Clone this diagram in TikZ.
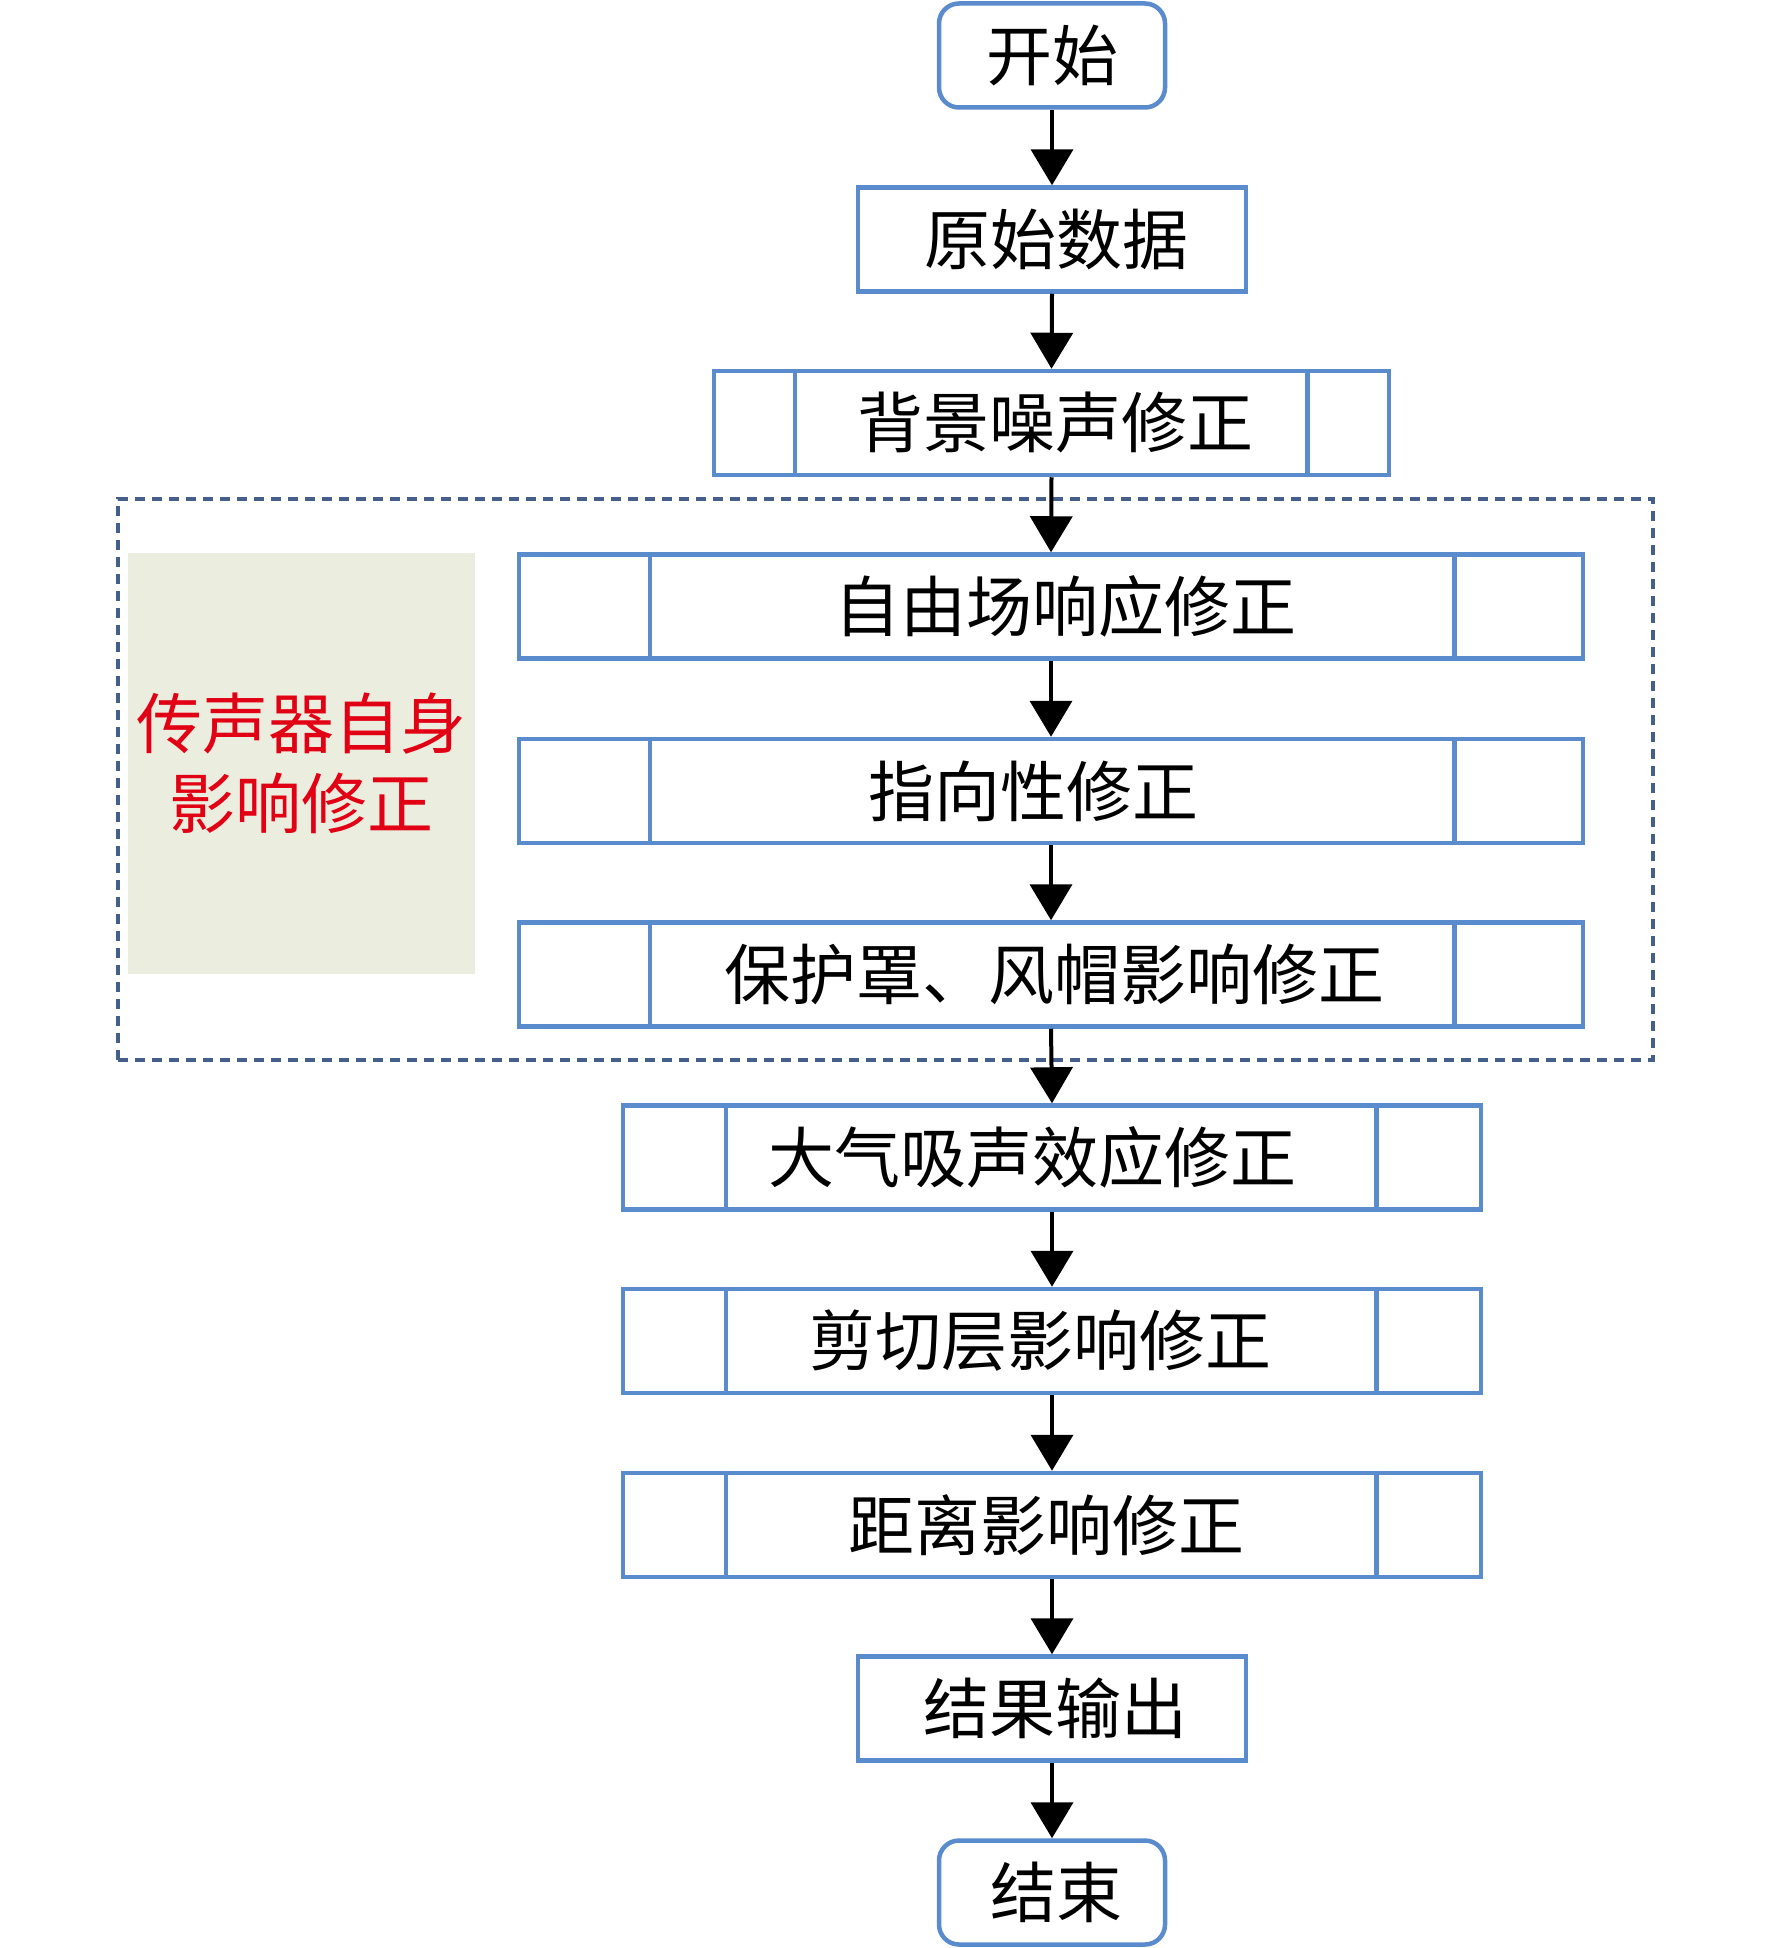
\documentclass[tikz,border=0pt]{standalone}
\usepackage{fontspec}
\setmainfont{Noto Sans CJK SC}
\usetikzlibrary{arrows.meta,calc}
\definecolor{boxblue}{RGB}{89,139,205}
\definecolor{dashblue}{RGB}{68,96,138}
\definecolor{greenbg}{RGB}{235,238,223}
\definecolor{redtxt}{RGB}{225,0,20}
\newcommand\procbars[3]{%
  \draw[bar] ($(#1.north west)+(#2,0)$) -- ($(#1.south west)+(#2,0)$);
  \draw[bar] ($(#1.north east)+(-#3,0)$) -- ($(#1.south east)+(-#3,0)$);}
\begin{document}
\begin{tikzpicture}[x=1pt,y=-1pt,
  txt/.style={font=\fontsize{66}{80}\selectfont},
  box/.style={draw=boxblue, line width=4.5pt, minimum height=104pt, inner sep=0pt, fill=white},
  term/.style={box, rounded corners=20pt},
  bar/.style={draw=boxblue, line width=4.5pt},
  arr/.style={line width=4pt, -{Triangle[length=36pt,width=42pt]}},
  grpbox/.style={draw=dashblue, line width=4pt, dash pattern=on 10pt off 7pt, inner sep=0pt},
  greenbox/.style={fill=greenbg, inner sep=0pt, text=redtxt, align=center, txt}]
\useasboundingbox (0,0) rectangle (1772,1948);

% group frame and side note
\node[grpbox, minimum width=1535pt, minimum height=561pt] (grp) at (885.5,779.5) {};
\node[greenbox, minimum width=347pt, minimum height=421pt] (mic) at (301.5,763) {传声器自身\\影响修正};

% main chain
\node[term, minimum width=226pt, label={[txt]center:开始}] (start) at (1052,55.5) {};
\node[box, minimum width=388pt, label={[txt,xshift=4pt]center:原始数据}] (raw) at (1052,239.5) {};
\node[box, minimum width=675pt, label={[txt,xshift=4pt]center:背景噪声修正}] (bg) at (1051.5,423) {};
\node[box, minimum width=1064pt, label={[txt,xshift=14pt]center:自由场响应修正}] (ff) at (1051,606.5) {};
\node[box, minimum width=1064pt, label={[txt,xshift=-18pt]center:指向性修正}] (dir) at (1051,791) {};
\node[box, minimum width=1064pt, label={[txt,xshift=3pt]center:保护罩、风帽影响修正}] (prot) at (1051,974.5) {};
\node[box, minimum width=858pt, label={[txt,xshift=-20pt]center:大气吸声效应修正}] (atm) at (1052,1157.5) {};
\node[box, minimum width=858pt, label={[txt,xshift=-12pt]center:剪切层影响修正}] (shear) at (1052,1341) {};
\node[box, minimum width=858pt, label={[txt,xshift=-6pt]center:距离影响修正}] (dist) at (1052,1525) {};
\node[box, minimum width=388pt, label={[txt,xshift=3pt]center:结果输出}] (out) at (1052,1708.5) {};
\node[term, minimum width=226pt, label={[txt,xshift=4pt]center:结束}] (end) at (1052,1892.5) {};

% predefined-process side bars
\procbars{bg}{83}{84}
\procbars{ff}{133}{131}
\procbars{dir}{133}{131}
\procbars{prot}{133}{131}
\procbars{atm}{105}{107}
\procbars{shear}{105}{107}
\procbars{dist}{105}{107}

% connectors
\draw[arr] (start.south) -- (raw.north);
\draw[arr] (raw.south) -- (bg.north);
\draw[arr] (bg.south) -- (ff.north);
\draw[arr] (ff.south) -- (dir.north);
\draw[arr] (dir.south) -- (prot.north);
\draw[arr] (prot.south) -- (atm.north);
\draw[arr] (atm.south) -- (shear.north);
\draw[arr] (shear.south) -- (dist.north);
\draw[arr] (dist.south) -- (out.north);
\draw[arr] (out.south) -- (end.north);
\end{tikzpicture}
\end{document}
